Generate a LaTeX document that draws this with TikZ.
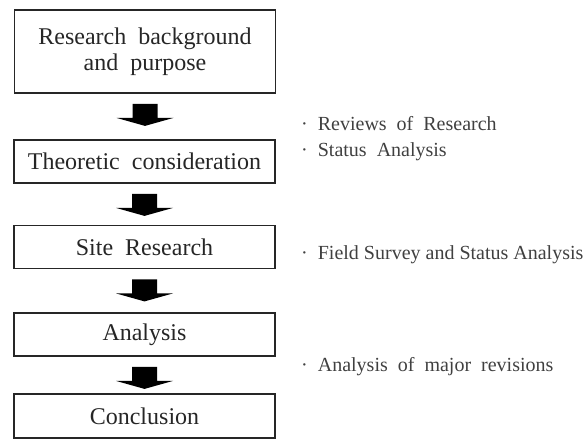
\documentclass[tikz,border=0pt]{standalone}
\usepackage{fontspec}
\setmainfont{Liberation Serif}
\usetikzlibrary{calc}
\tikzset{
  stepbox/.style={draw=black!85, line width=1.8pt, minimum width=261pt, inner sep=0pt, align=center, font=\fontsize{24}{26}\selectfont, text=black!85},
  note/.style={anchor=west, inner sep=0pt, align=left, font=\fontsize{20}{26}\selectfont, text=black!75},
  blockarrow/.style={fill=black}
}
\newcommand{\barrow}[1]{\fill[blockarrow] ($(#1.south)+(-12.5,10)$) -- ++(25,0) -- ++(0,14) -- ++(16,0) -- ++(-28.5,8) -- ++(-28.5,-8) -- ++(16,0) -- cycle;}
\begin{document}
\begin{tikzpicture}[x=1pt,y=-1pt]
\useasboundingbox (0,0) rectangle (586,441);
\node[stepbox, minimum height=83pt] (b1) at (145,51.5) {Research\ \ background\\and\ \ purpose};
\node[stepbox, minimum height=43pt] (b2) at (144.5,161.5) {Theoretic\ \ consideration};
\node[stepbox, minimum height=43pt] (b3) at (144.5,247) {Site\ \ Research};
\node[stepbox, minimum height=43pt] (b4) at (144.5,334.5) {Analysis};
\node[stepbox, minimum height=44pt] (b5) at (144.5,416) {Conclusion};
\barrow{b1}
\barrow{b2}
\barrow{b3}
\barrow{b4}
\node[note] (n1) at (301,139) {·\ \ Reviews\ \ of\ \ Research\\·\ \ Status\ \ Analysis};
\node[note] (n2) at (301,255) {·\ \ Field Survey and Status Analysis};
\node[note] (n3) at (301,367) {·\ \ Analysis\ \ of\ \ major\ \ revisions};
\end{tikzpicture}
\end{document}
